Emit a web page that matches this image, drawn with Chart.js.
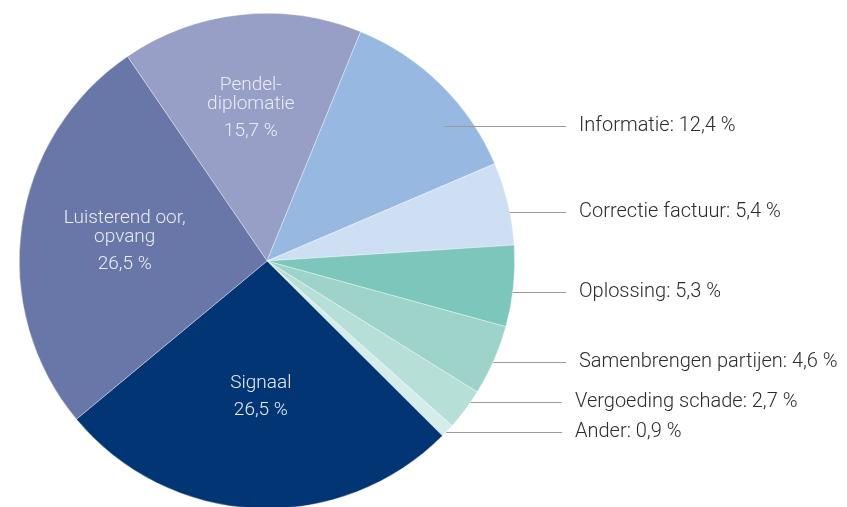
<!DOCTYPE html>
<html>
<head>
<meta charset="utf-8">
<script src="https://cdn.jsdelivr.net/npm/chart.js@4"></script>
<style>
  html, body { margin: 0; padding: 0; background: #fff; overflow: hidden; }
  #wrap { width: 847px; height: 507px; overflow: hidden; }
</style>
</head>
<body>
<div id="wrap"><canvas id="pieChart" width="847" height="520"></canvas></div>
<script>
  const categories = [
    "Pendeldiplomatie",
    "Informatie",
    "Correctie factuur",
    "Oplossing",
    "Samenbrengen partijen",
    "Vergoeding schade",
    "Ander",
    "Signaal",
    "Luisterend oor, opvang",
  ];
  const shares = [15.7, 12.4, 5.4, 5.3, 4.6, 2.7, 0.9, 26.5, 26.5];
  const sliceColors = [
    "#979fc7",
    "#97b8e1",
    "#cedff4",
    "#7cc6bb",
    "#9dd3c9",
    "#b6dfd7",
    "#d4ecea",
    "#023574",
    "#6876a8",
  ];

  // big slices get their label inside, split over lines
  const innerLines = {
    0: ["Pendel-", "diplomatie"],
    7: ["Signaal"],
    8: ["Luisterend oor,", "opvang"],
  };
  const innerRadius = { 0: 0.62, 7: 0.55, 8: 0.58 };
  // leader line start: [fraction along the slice angle, fraction of radius]
  const anchorPos = {
    1: [0.68, 0.9],
    2: [0.6, 1],
    3: [0.57, 1],
    4: [0.52, 1],
    5: [0.28, 1],
    6: [0.62, 1],
  };

  function pct(v) {
    return v.toFixed(1).replace(".", ",") + " %";
  }

  const labelPlugin = {
    id: "sliceLabels",
    afterDatasetsDraw(chart) {
      const ctx = chart.ctx;
      const arcs = chart.getDatasetMeta(0).data;
      ctx.save();
      arcs.forEach((arc, i) => {
        const r = arc.outerRadius;
        if (innerLines[i]) {
          const mid = (arc.startAngle + arc.endAngle) / 2;
          const cx = arc.x + Math.cos(mid) * r * innerRadius[i];
          const cy = arc.y + Math.sin(mid) * r * innerRadius[i];
          const lines = innerLines[i];
          ctx.fillStyle = "#e9ecf5";
          ctx.font = "300 19px Roboto";
          ctx.textAlign = "center";
          ctx.textBaseline = "middle";
          const total = (lines.length - 1) * 19 + 27;
          let y = cy - total / 2;
          lines.forEach((line) => {
            ctx.fillText(line, cx, y);
            y += 19;
          });
          ctx.fillText(pct(shares[i]), cx, y - 19 + 27);
        } else {
          const [fa, fr] = anchorPos[i];
          const ang = arc.startAngle + (arc.endAngle - arc.startAngle) * fa;
          const ax = arc.x + Math.cos(ang) * r * fr;
          const ay = Math.round(arc.y + Math.sin(ang) * r * fr) + 0.5;
          const tx = i >= 5 ? arc.x + 308 : arc.x + 312;
          ctx.strokeStyle = "#9a9a9a";
          ctx.lineWidth = 1;
          ctx.beginPath();
          ctx.moveTo(ax, ay);
          ctx.lineTo(tx - 13, ay);
          ctx.stroke();
          ctx.fillStyle = "#2b2b2b";
          ctx.font = "300 20px Roboto";
          ctx.textAlign = "left";
          ctx.textBaseline = "middle";
          ctx.fillText(categories[i] + ": " + pct(shares[i]), tx, ay - 1);
        }
      });
      ctx.restore();
    },
  };

  new Chart(document.getElementById("pieChart").getContext("2d"), {
    type: "pie",
    data: {
      labels: categories,
      datasets: [
        {
          data: shares,
          backgroundColor: sliceColors,
          borderColor: "rgba(255,255,255,0.6)",
          borderWidth: 0.6,
        },
      ],
    },
    options: {
      responsive: false,
      animation: false,
      devicePixelRatio: 1,
      rotation: -34.3,
      layout: { padding: { left: 19, top: 13, right: 332, bottom: 11 } },
      plugins: {
        legend: { display: false },
        tooltip: { enabled: false },
      },
    },
    plugins: [labelPlugin],
  });
</script>
</body>
</html>
